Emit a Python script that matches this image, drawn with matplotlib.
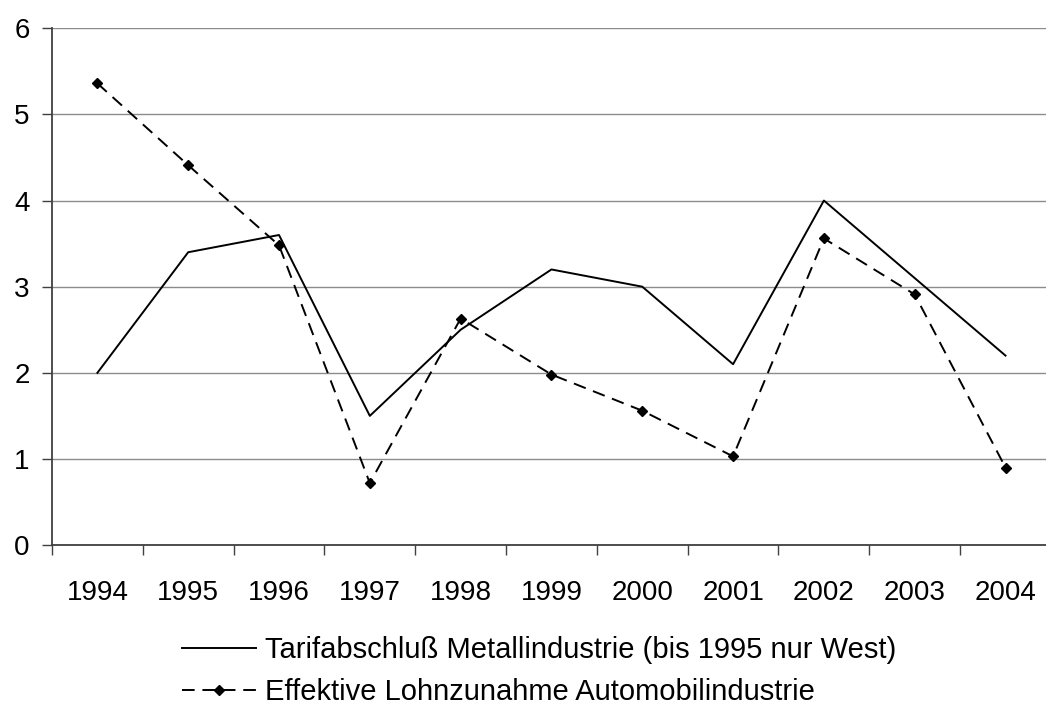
import numpy as np
import matplotlib.pyplot as plt

plt.rcParams['font.family'] = ['Liberation Sans', 'DejaVu Sans']

years = ['1994', '1995', '1996', '1997', '1998', '1999',
         '2000', '2001', '2002', '2003', '2004']
tarif = [2.0, 3.4, 3.6, 1.5, 2.5, 3.2, 3.0, 2.1, 4.0, 3.1, 2.2]
effektiv = [5.36, 4.41, 3.48, 0.72, 2.63, 1.98, 1.56, 1.03, 3.56, 2.91, 0.9]

label_tarif = 'Tarifabschluß Metallindustrie (bis 1995 nur West)'
label_eff = 'Effektive Lohnzunahme Automobilindustrie'

fig = plt.figure(figsize=(10.46, 7.07), dpi=100)
ax = fig.add_axes([0.0497, 0.229, 0.955, 0.731])

x = np.arange(len(years))
ax.plot(x, tarif, color='black', linewidth=1.4, label=label_tarif)
ax.plot(x, effektiv, color='black', linewidth=1.4, linestyle=(0, (6.5, 4)),
        marker='D', markersize=5.5, label=label_eff)

ax.set_xlim(-0.5, len(years) - 0.5)
ax.set_ylim(0, 6)
ax.set_yticks(range(0, 7))
ax.yaxis.grid(True, color='#8c8c8c', linewidth=1.0)
ax.set_axisbelow(True)

# category labels centred, tick marks between categories
ax.set_xticks(x)
ax.set_xticklabels(years, fontsize=20)
ax.tick_params(axis='x', which='major', length=0, pad=25)
ax.set_xticks(np.arange(-0.5, len(years), 1.0), minor=True)
ax.tick_params(axis='x', which='minor', length=7, width=1.0, color='#404040')
ax.tick_params(axis='y', labelsize=20, length=7, width=1.0, color='#404040', pad=9)

for s in ['top', 'right']:
    ax.spines[s].set_visible(False)
for s in ['left', 'bottom']:
    ax.spines[s].set_color('#404040')
    ax.spines[s].set_linewidth(1.3)

fig.legend(loc='center', bbox_to_anchor=(539 / 1046, 1 - 671 / 707),
           frameon=False, fontsize=21, handlelength=2.53, handletextpad=0.31,
           labelspacing=0.5)

fig.savefig('out.png', dpi=100)
